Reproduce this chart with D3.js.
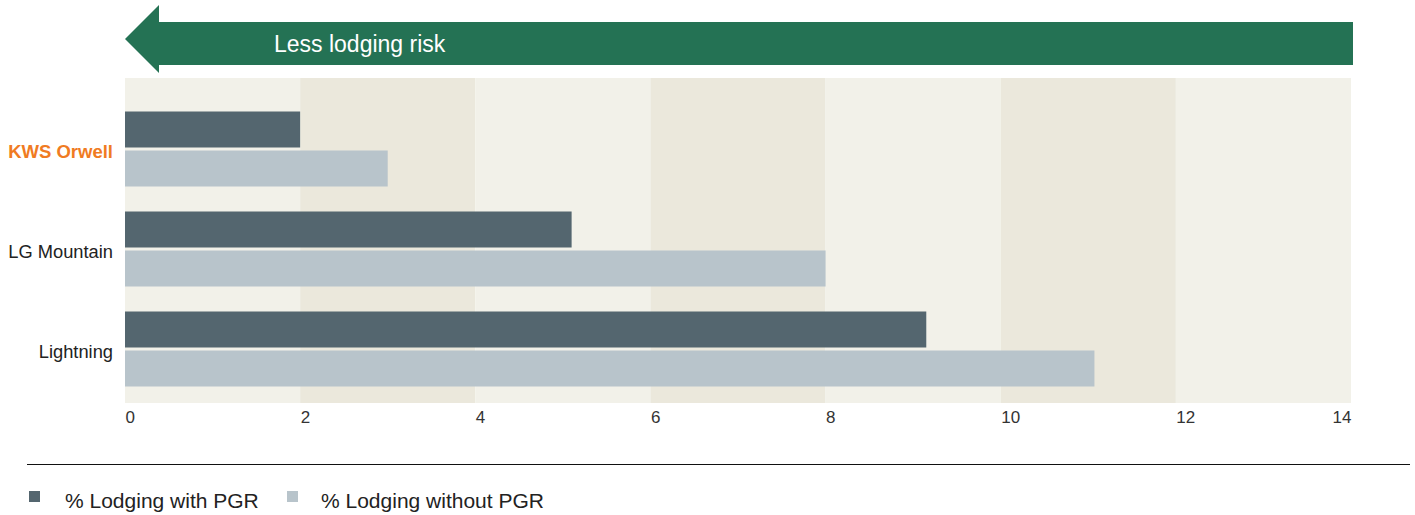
<!DOCTYPE html>
<html><head><meta charset="utf-8">
<script src="https://cdn.jsdelivr.net/npm/d3@7/dist/d3.min.js"></script>
<style>
html,body{margin:0;padding:0;background:#fff;}
svg{display:block;font-family:"Liberation Sans",Arial,Helvetica,sans-serif;}
</style></head>
<body>
<svg id="chart" width="1415" height="515"></svg>
<script>
const categories = ["KWS Orwell", "LG Mountain", "Lightning"];
const withPGR = [2.0, 5.1, 9.15];
const withoutPGR = [3.0, 8.0, 11.07];
const seriesNames = ["% Lodging with PGR", "% Lodging without PGR"];
const seriesColors = ["#54666f", "#b8c4cb"];
const tickValues = [0, 2, 4, 6, 8, 10, 12, 14];
const arrowLabel = "Less lodging risk";

const svg = d3.select("#chart");
const x = d3.scaleLinear().domain([0, 14]).range([125, 1351]);
const y = d3.scaleBand().domain(categories).range([99, 399]).paddingInner(0.25).paddingOuter(0.125);
const ySub = d3.scaleBand().domain([0, 1]).range([0, y.bandwidth()]).paddingInner(3 / 39);

// background bands
const bandEdges = d3.pairs(tickValues);
svg.append("g").selectAll("rect").data(bandEdges).join("rect")
  .attr("x", d => x(d[0]))
  .attr("width", d => x(d[1]) - x(d[0]))
  .attr("y", 78).attr("height", 325)
  .attr("fill", (d, i) => i % 2 === 0 ? "#f2f1e9" : "#ebe8dc");

// arrow
const arrowPath = d3.path();
arrowPath.moveTo(x(0), 39);
arrowPath.lineTo(159, 5);
arrowPath.lineTo(159, 22);
arrowPath.lineTo(1353, 22);
arrowPath.lineTo(1353, 65);
arrowPath.lineTo(159, 65);
arrowPath.lineTo(159, 73);
arrowPath.closePath();
svg.append("path").attr("d", arrowPath.toString()).attr("fill", "#247254");
svg.append("text").attr("x", 274).attr("y", 52).attr("fill", "#fff")
  .attr("font-size", 23).text(arrowLabel);

// bars
const data = categories.map((c, i) => ({ cat: c, vals: [withPGR[i], withoutPGR[i]] }));
const g = svg.append("g").selectAll("g").data(data).join("g")
  .attr("transform", d => `translate(0,${y(d.cat)})`);
g.selectAll("rect").data(d => d.vals.map((v, j) => ({ v, j }))).join("rect")
  .attr("x", x(0))
  .attr("y", d => ySub(d.j))
  .attr("width", d => x(d.v) - x(0))
  .attr("height", ySub.bandwidth())
  .attr("fill", d => seriesColors[d.j]);

// category labels
svg.append("g").selectAll("text").data(categories).join("text")
  .attr("x", 113)
  .attr("y", d => y(d) + y.bandwidth() / 2 + 9)
  .attr("text-anchor", "end")
  .attr("font-size", (d, i) => i === 0 ? 18.5 : 18.3)
  .attr("font-weight", (d, i) => i === 0 ? "bold" : "normal")
  .attr("fill", (d, i) => i === 0 ? "#f07b22" : "#222")
  .text(d => d);

// x axis
const xAxis = d3.axisBottom(x).tickValues(tickValues).tickSize(0).tickPadding(0);
const ax = svg.append("g").attr("transform", "translate(0,410)").call(xAxis);
ax.select(".domain").remove();
ax.selectAll("text")
  .attr("font-family", "Liberation Sans, Arial, sans-serif")
  .attr("font-size", 17)
  .attr("fill", "#333")
  .attr("dy", 0).attr("y", 13)
  .attr("text-anchor", (d, i) => i === tickValues.length - 1 ? "end" : "start");

// separator line
svg.append("line").attr("x1", 27).attr("x2", 1410).attr("y1", 464.5).attr("y2", 464.5)
  .attr("stroke", "#111").attr("stroke-width", 1);

// legend
const legendX = [29, 287];
const lg = svg.append("g").selectAll("g").data(seriesNames).join("g")
  .attr("transform", (d, i) => `translate(${legendX[i]},0)`);
lg.append("rect").attr("x", 0).attr("y", 491).attr("width", 11).attr("height", 11)
  .attr("fill", (d, i) => seriesColors[i]);
lg.append("text").attr("x", (d, i) => i === 0 ? 36 : 34).attr("y", 508)
  .attr("font-size", 21).attr("fill", "#222").text(d => d);
</script>
</body></html>
